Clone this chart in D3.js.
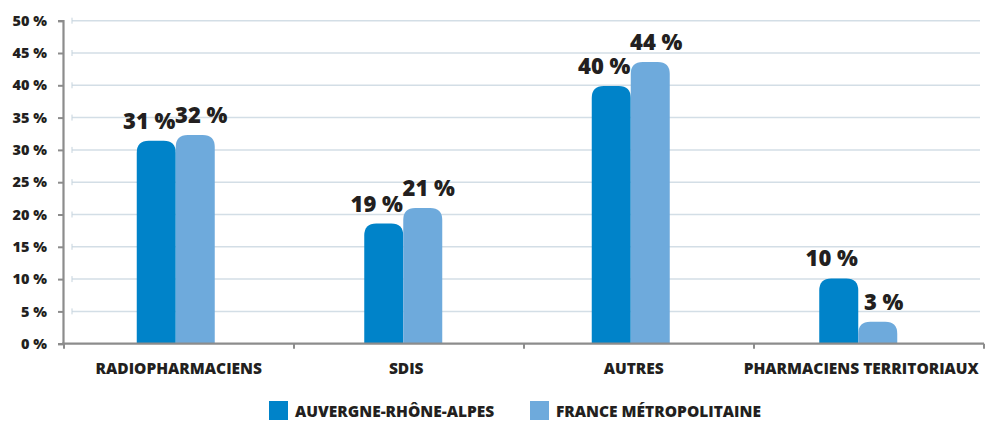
<!DOCTYPE html>
<html>
<head>
<meta charset="utf-8">
<script src="https://cdn.jsdelivr.net/npm/d3@7/dist/d3.min.js"></script>
<style>
  body { margin: 0; background: #fff; }
  text { font-family: "Open Sans", sans-serif; font-weight: 800; fill: #231f20; }
</style>
</head>
<body>
<div id="chart"></div>
<script>
const categories = ["RADIOPHARMACIENS", "SDIS", "AUTRES", "PHARMACIENS TERRITORIAUX"];
const seriesNames = ["AUVERGNE-RHÔNE-ALPES", "FRANCE MÉTROPOLITAINE"];
const araValues = [31.4, 18.6, 39.9, 10.1];
const franceValues = [32.3, 21.0, 43.6, 3.4];
const yTicks = [0, 5, 10, 15, 20, 25, 30, 35, 40, 45, 50];

const colors = ["#0083c9", "#6eaadc"];
const svgWidth = 985, svgHeight = 422;

const svg = d3.select("#chart").append("svg")
    .attr("width", svgWidth)
    .attr("height", svgHeight);

// axis bands and bar bands (bars sit slightly left of the axis categories)
const x = d3.scaleBand().domain(categories).range([64, 984]);
const xBar = d3.scaleBand().domain(categories).range([62, 972]);
const y = d3.scaleLinear().domain([0, 50]).range([343.7, 20.7]);
const barW = 39;

// gridlines
const grid = svg.append("g");
yTicks.filter(d => d > 0).forEach(t => {
    grid.append("line")
        .attr("x1", 72).attr("x2", 980)
        .attr("y1", y(t)).attr("y2", y(t))
        .attr("stroke", "#d3dee6").attr("stroke-width", 1.5);
    grid.append("line")
        .attr("x1", 72).attr("x2", 72)
        .attr("y1", y(t) - 3).attr("y2", y(t) + 3)
        .attr("stroke", "#c5d3dd").attr("stroke-width", 1);
});

// bars with rounded tops
function barPath(x0, w, top, bottom, r) {
    r = Math.min(r, (bottom - top), w / 2);
    return `M${x0},${bottom} L${x0},${top + r} Q${x0},${top} ${x0 + r},${top}` +
        ` L${x0 + w - r},${top} Q${x0 + w},${top} ${x0 + w},${top + r} L${x0 + w},${bottom} Z`;
}

const series = [araValues, franceValues];
series.forEach((vals, si) => {
    categories.forEach((c, i) => {
        const cx = xBar(c) + xBar.bandwidth() / 2;
        const x0 = cx - barW + si * barW;
        svg.append("path")
            .attr("d", barPath(x0, barW, y(vals[i]), y(0), 12))
            .attr("fill", colors[si]);
        svg.append("text")
            .attr("x", x0 + barW / 2 + (si === 0 ? -7 : 6))
            .attr("y", y(vals[i]) - 12)
            .attr("text-anchor", "middle")
            .style("font-size", "22px")
            .text(Math.round(vals[i]) + " %");
    });
});

// y axis
const yAxis = svg.append("g").attr("transform", "translate(63,0)")
    .call(d3.axisLeft(y).tickValues(yTicks).tickSize(5).tickFormat(d => d + " %"));
yAxis.select(".domain").attr("stroke", "#8c8c8c").attr("stroke-width", 2.2);
yAxis.selectAll(".tick line").attr("stroke", "#8c8c8c").attr("stroke-width", 2);
yAxis.selectAll(".tick text")
    .attr("x", -16)
    .style("font-size", "14.5px")
    .style("font-family", "'Open Sans', sans-serif")
    .style("font-weight", 800)
    .attr("fill", "#231f20");

// x axis
svg.append("line")
    .attr("x1", 62).attr("x2", 984)
    .attr("y1", y(0)).attr("y2", y(0))
    .attr("stroke", "#8c8c8c").attr("stroke-width", 2.2);
const xTicks = [0, 1, 2, 3, 4].map(i => 64 + i * x.step());
xTicks.forEach(t => {
    svg.append("line")
        .attr("x1", t).attr("x2", t)
        .attr("y1", y(0)).attr("y2", y(0) + 5)
        .attr("stroke", "#8c8c8c").attr("stroke-width", 2);
});
categories.forEach(c => {
    svg.append("text")
        .attr("x", xBar(c) + xBar.bandwidth() / 2 + 3)
        .attr("y", 374)
        .attr("text-anchor", "middle")
        .style("font-size", "15.5px")
        .text(c);
});

// legend
const legendPos = [269, 530];
seriesNames.forEach((s, i) => {
    svg.append("rect")
        .attr("x", legendPos[i]).attr("y", 401)
        .attr("width", 19).attr("height", 19)
        .attr("fill", colors[i]);
    svg.append("text")
        .attr("x", legendPos[i] + 26)
        .attr("y", 417)
        .style("font-size", "15.5px")
        .text(s);
});
</script>
</body>
</html>
